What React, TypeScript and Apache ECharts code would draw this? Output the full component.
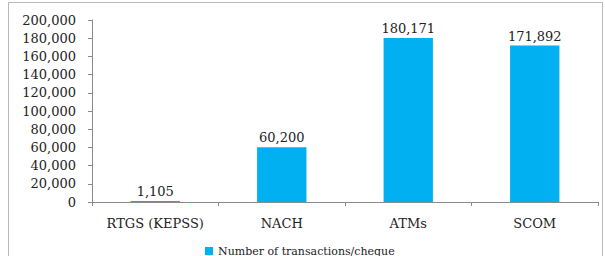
import React, { useEffect, useRef } from "react";
import * as echarts from "echarts";

const categories = ["RTGS (KEPSS)", "NACH", "ATMs", "SCOM"];
const values = [1105, 60200, 180171, 171892];
const seriesName = "Number of transactions/cheque";
const yMax = 200000;
const yInterval = 20000;

export default function App() {
  const ref = useRef<HTMLDivElement>(null);
  useEffect(() => {
    if (!ref.current) return;
    const chart = echarts.init(ref.current, null, { renderer: "svg" });
    const font = "'DejaVu Serif', 'Liberation Serif', serif";
    chart.setOption({
      animation: false,
      backgroundColor: "#ffffff",
      graphic: [
        {
          type: "rect",
          shape: { x: 8.5, y: 2.5, width: 594, height: 262 },
          style: { fill: "none", stroke: "#b8b8b8", lineWidth: 1 },
          silent: true,
        },
      ],
      grid: { left: 92, right: 7, top: 20, bottom: 54, containLabel: false },
      legend: {
        data: [seriesName],
        left: 200,
        top: 240,
        itemWidth: 8,
        itemHeight: 8,
        itemGap: 4,
        icon: "rect",
        textStyle: { fontFamily: font, fontSize: 11, lineHeight: 12, color: "#222" },
      },
      xAxis: {
        type: "category",
        data: categories,
        axisLine: { lineStyle: { color: "#8a8a8a", width: 1 } },
        axisTick: { show: true, length: 4, lineStyle: { color: "#8a8a8a" } },
        axisLabel: { interval: 0, fontFamily: font, fontSize: 13, color: "#222", margin: 15 },
      },
      yAxis: {
        type: "value",
        min: 0,
        max: yMax,
        interval: yInterval,
        splitLine: { show: false },
        axisLine: { show: true, lineStyle: { color: "#8a8a8a", width: 1 } },
        axisTick: { show: true, length: 4, lineStyle: { color: "#8a8a8a" } },
        axisLabel: {
          fontFamily: font,
          fontSize: 13,
          color: "#222",
          margin: 16,
          formatter: (v: number) => v.toLocaleString("en-US"),
        },
      },
      series: [
        {
          name: seriesName,
          type: "bar",
          data: values,
          barWidth: "39%",
          itemStyle: { color: "#00B0F0" },
          label: {
            show: true,
            position: "top",
            distance: 3,
            fontFamily: font,
            fontSize: 13,
            color: "#222",
            formatter: (p: any) => Number(p.value).toLocaleString("en-US"),
          },
        },
      ],
    });
    return () => chart.dispose();
  }, []);
  return (
    <div
      ref={ref}
      style={{ position: "fixed", left: 0, top: 0, width: 605, height: 256 }}
    />
  );
}
